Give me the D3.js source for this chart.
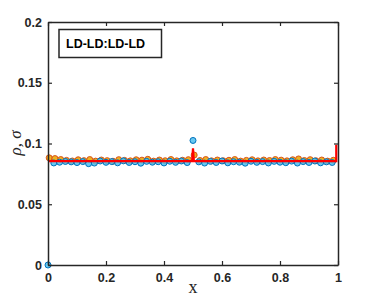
<!DOCTYPE html>
<html><head><meta charset="utf-8">
<script src="https://cdn.jsdelivr.net/npm/d3@7"></script>
<style>body{margin:0;background:#fff}svg{display:block}</style>
</head><body>
<svg id="c" width="373" height="298"></svg>
<script>
const xTicks = [0, 0.2, 0.4, 0.6, 0.8, 1];
const yTicks = [0, 0.05, 0.1, 0.15, 0.2];
const yTickLabels = ["0", "0.05", "0.1", "0.15", "0.2"];
const xTickLabels = ["0", "0.2", "0.4", "0.6", "0.8", "1"];
const legendLabel = "LD-LD:LD-LD";

const xPos = [0,0.02,0.04,0.06,0.08,0.1,0.12,0.14,0.16,0.18,0.2,0.22,0.24,0.26,0.28,0.3,0.32,0.34,0.36,0.38,0.4,0.42,0.44,0.46,0.48,0.5,0.52,0.54,0.56,0.58,0.6,0.62,0.64,0.66,0.68,0.7,0.72,0.74,0.76,0.78,0.8,0.82,0.84,0.86,0.88,0.9,0.92,0.94,0.96,0.98];
const rhoVals = [0,0.0840,0.0846,0.0852,0.0849,0.0843,0.0851,0.0834,0.0839,0.0856,0.0845,0.0851,0.0841,0.0857,0.0844,0.0850,0.0838,0.0853,0.0846,0.0850,0.0840,0.0854,0.0845,0.0856,0.0843,0.1025,0.0849,0.0839,0.0853,0.0844,0.0856,0.0841,0.0850,0.0846,0.0838,0.0854,0.0845,0.0851,0.0840,0.0853,0.0846,0.0842,0.0855,0.0839,0.0851,0.0844,0.0856,0.0841,0.0849,0.0844];
const sigmaVals = [0.0882,0.0876,0.0868,0.0861,0.0856,0.0866,0.0859,0.0868,0.0855,0.0864,0.0859,0.0854,0.0867,0.0861,0.0857,0.0866,0.0863,0.0870,0.0855,0.0864,0.0858,0.0868,0.0857,0.0862,0.0867,0.0905,0.0860,0.0868,0.0857,0.0864,0.0858,0.0862,0.0868,0.0855,0.0861,0.0866,0.0857,0.0864,0.0860,0.0868,0.0863,0.0857,0.0866,0.0873,0.0860,0.0867,0.0858,0.0864,0.0855,0.0862];
const lineX = [0, 0.497, 0.5, 0.503, 0.994, 0.994];
const lineY = [0.0855, 0.0855, 0.0960, 0.0855, 0.0855, 0.0990];

const svg = d3.select("#c");
const L = 48, R = 338, T = 22, B = 265;
const x = d3.scaleLinear().domain([0, 1]).range([L, R]);
const y = d3.scaleLinear().domain([0, 0.2]).range([B, T]);
const axisColor = "#262626";
const tickFont = "bold 12.5px 'Liberation Sans', Arial, sans-serif";

// markers
const g = svg.append("g");
g.selectAll("circle.sig").data(xPos.map((v,i)=>[v+0.004,sigmaVals[i]])).enter().append("circle")
  .attr("cx", d=>x(d[0])).attr("cy", d=>y(d[1])).attr("r", 3)
  .attr("fill", "#EDB120").attr("stroke", "#D95319").attr("stroke-width", 1);
g.selectAll("circle.rho").data(xPos.map((v,i)=>[v,rhoVals[i]])).enter().append("circle")
  .attr("cx", d=>x(d[0])).attr("cy", d=>y(d[1])).attr("r", 3)
  .attr("fill", "#4DBEEE").attr("stroke", "#0072BD").attr("stroke-width", 1).attr("fill-opacity",0.85);

// red line
const line = d3.line().x(d=>x(d[0])).y(d=>y(d[1]));
svg.append("path").datum(lineX.map((v,i)=>[v,lineY[i]]))
  .attr("d", line).attr("fill","none").attr("stroke","#FF0000").attr("stroke-width",2.2);

// axes
const axBottom = d3.axisBottom(x).tickValues(xTicks).tickSizeInner(-4).tickSizeOuter(0).tickFormat((d,i)=>xTickLabels[i]).tickPadding(8);
const axTop = d3.axisTop(x).tickValues(xTicks).tickSizeInner(-4).tickSizeOuter(0).tickFormat("");
const axLeft = d3.axisLeft(y).tickValues(yTicks).tickSizeInner(-4).tickSizeOuter(0).tickFormat((d,i)=>yTickLabels[i]).tickPadding(6);
const axRight = d3.axisRight(y).tickValues(yTicks).tickSizeInner(-4).tickSizeOuter(0).tickFormat("");
function style(sel){
  sel.select(".domain").attr("stroke", axisColor).attr("stroke-width", 1.5);
  sel.selectAll(".tick line").attr("stroke", axisColor).attr("stroke-width", 1.2);
  sel.selectAll(".tick text").attr("fill", "#262626").attr("stroke","none").style("font", tickFont);
}
svg.append("g").attr("transform",`translate(0,${B})`).call(axBottom).call(style);
svg.append("g").attr("transform",`translate(0,${T})`).call(axTop).call(style);
svg.append("g").attr("transform",`translate(${L},0)`).call(axLeft).call(style);
svg.append("g").attr("transform",`translate(${R},0)`).call(axRight).call(style);

// labels
svg.append("text").attr("transform","translate(21,143) rotate(-90)")
  .attr("text-anchor","middle").attr("fill","#262626")
  .style("font","italic 17px 'Liberation Serif', 'Times New Roman', serif").text("ρ, σ");
svg.append("text").attr("x",193).attr("y",293).attr("text-anchor","middle").attr("fill","#262626")
  .style("font","18px 'Liberation Serif', 'Times New Roman', serif").text("x");

// legend box
svg.append("rect").attr("x",59).attr("y",29.5).attr("width",102.5).attr("height",28)
  .attr("fill","#fff").attr("stroke",axisColor).attr("stroke-width",1.5);
svg.append("text").attr("x",66).attr("y",48).attr("fill","#000")
  .style("font","bold 12.5px 'Liberation Sans', Arial, sans-serif").text(legendLabel);
</script>
</body></html>
